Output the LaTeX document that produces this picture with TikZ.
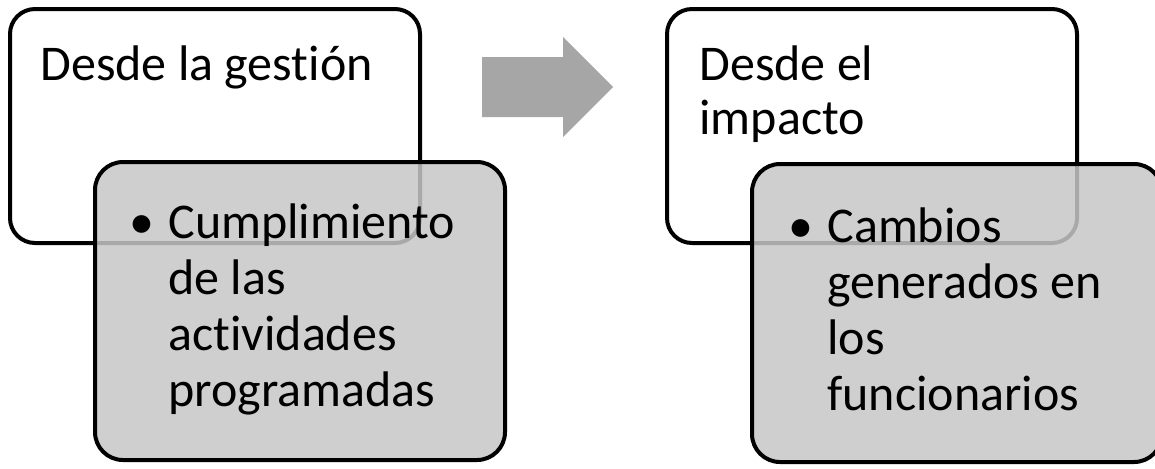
\documentclass[tikz,border=0pt]{standalone}
\usepackage{fontspec}
\setmainfont{Carlito}[Ligatures=NoCommon]
\usepackage{xcolor}
\usetikzlibrary{shapes}
\colorlet{Boxcol}{black!22}
\colorlet{Arrowcol}{black!35}
\tikzstyle{upper box}=[draw=black,line width=2pt,fill=white,rounded corners=12.5pt,
  minimum width=205pt,minimum height=117pt,inner sep=0]
\tikzstyle{lower box}=[draw=black,line width=2pt,fill=Boxcol,fill opacity=0.85,
  draw opacity=1,rounded corners=14pt,minimum width=205pt,minimum height=149pt,inner sep=0]
\tikzstyle{title text}=[anchor=base west,inner sep=0,align=left,
  font=\fontsize{25pt}{27pt}\selectfont]
\tikzstyle{item text}=[anchor=base west,inner sep=0,align=left,
  font=\fontsize{25pt}{28pt}\selectfont]
\newcommand{\itembullet}{\llap{\textbullet\hspace{7pt}}}

\begin{document}
\begin{tikzpicture}[x=0.5pt,y=-0.5pt]
  \clip (0,0) rectangle (1155,468);

  % GESTION (base anchor sits on the last line)
  \node[upper box] (gestion) at (215,126) {};
  \node[title text] (gestiontxt) at (40,80) {Desde la gestión};
  \node[lower box] (cumpl) at (300,311) {};
  \node[item text] (cumpltxt) at (168,406)
    {\itembullet Cumplimiento\\de las\\actividades\\programadas};

  % ARROW
  \fill[Arrowcol] (482,57) -- (563,57) -- (563,37) -- (613,87)
    -- (563,137) -- (563,117) -- (482,117) -- cycle;

  % IMPACTO
  \node[upper box] (impacto) at (872,126) {};
  \node[title text] (impactotxt) at (699,134) {Desde el\\impacto};
  \node[lower box] (cambios) at (957,313) {};
  \node[item text] (cambiostxt) at (827,410)
    {\itembullet Cambios\\generados en\\los\\funcionarios};

\end{tikzpicture}
\end{document}
